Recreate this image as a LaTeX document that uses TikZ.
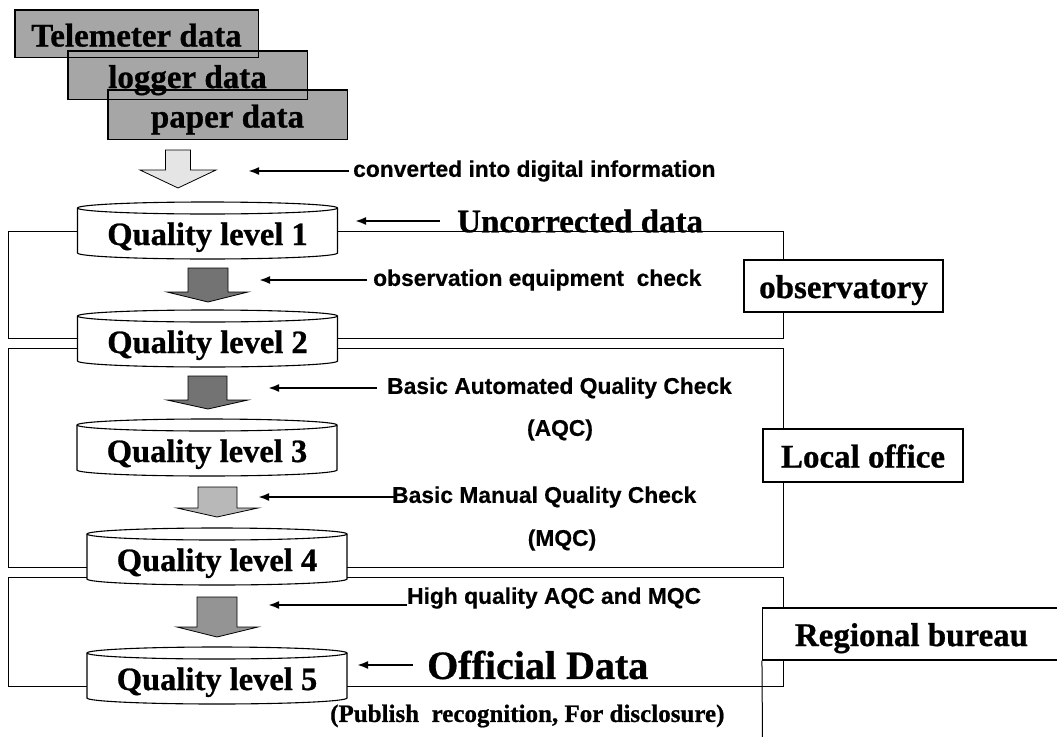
\documentclass[tikz,border=0pt]{standalone}
\usepackage{fontspec}
\setmainfont{Liberation Serif}[BoldFeatures={FakeBold=0.8}]
\setsansfont{Liberation Sans}[BoldFeatures={FakeBold=0.4}]
\usetikzlibrary{arrows.meta}
\pgfdeclarelayer{bg}
\pgfsetlayers{bg,main}
\newcommand\qcyl[1]{%
  \path[cylline] ([shift={(-130pt,27pt)}]#1.center) -- ([shift={(-130pt,-18pt)}]#1.center)
    arc[start angle=180,end angle=360,x radius=130pt,y radius=6pt]
    -- ([shift={(130pt,27pt)}]#1.center)
    arc[start angle=0,end angle=180,x radius=130pt,y radius=6pt] -- cycle;
  \draw[line width=1.1pt] ([shift={(-130pt,27pt)}]#1.center)
    arc[start angle=180,end angle=360,x radius=130pt,y radius=6pt];}
\begin{document}
\begin{tikzpicture}[x=1pt,y=-1pt,
  databox/.style={inner sep=0pt,text height=26pt,text depth=0pt,font=\bfseries\fontsize{33}{36}\selectfont},
  datafill/.style={fill=black!35},
  dataedge/.style={draw=black,line width=1.4pt},
  qtext/.style={inner sep=0pt,minimum width=260pt,minimum height=20pt,text height=22pt,text depth=2pt,font=\bfseries\fontsize{32.5}{36}\selectfont},
  cylline/.style={draw=black,line width=1.1pt,fill=white},
  region/.style={draw=black,line width=1pt},
  officebox/.style={draw=black,line width=1.1pt,fill=white,inner sep=0pt,text height=24pt,text depth=0pt,font=\bfseries\fontsize{33}{36}\selectfont},
  sanslab/.style={inner sep=0pt,anchor=west,font=\sffamily\bfseries\fontsize{22.8}{26}\selectfont},
  sanscen/.style={inner sep=0pt,font=\sffamily\bfseries\fontsize{22.8}{26}\selectfont},
  seriflab/.style={inner sep=0pt,anchor=west,font=\bfseries\fontsize{33}{36}\selectfont},
  ptr/.style={draw=black,line width=2pt,-{Latex[length=11pt,width=8pt]}},
  blockarrow/.style={draw=black,line width=0.8pt},
]
\useasboundingbox (0,0) rectangle (1057,736);

% stacked data sources
\node[databox,minimum width=243pt,minimum height=47pt] (tele) at (136.5,33.5) {Telemeter data};
\node[databox,minimum width=239pt,minimum height=48pt] (logger) at (187.5,75) {logger data};
\node[databox,minimum width=239pt,minimum height=49pt] (paper) at (227.5,114.5) {paper data};
\begin{pgfonlayer}{bg}
\foreach \b in {tele,logger,paper}{\path[datafill] (\b.north west) rectangle (\b.south east);}
\foreach \b in {tele,logger,paper}{\path[dataedge] (\b.north west) rectangle (\b.south east);}
\end{pgfonlayer}

% quality level cylinders
\node[qtext] (q1) at (207.5,235) {Quality level 1};
\node[qtext] (q2) at (207.5,343) {Quality level 2};
\node[qtext] (q3) at (207,452) {Quality level 3};
\node[qtext] (q4) at (217,561) {Quality level 4};
\node[qtext] (q5) at (217,680) {Quality level 5};
\begin{pgfonlayer}{bg}
\qcyl{q1}\qcyl{q2}\qcyl{q3}\qcyl{q4}\qcyl{q5}
\end{pgfonlayer}

% block arrows
\draw[blockarrow,fill=black!10] (165.5,150) -- (190.5,150) -- (190.5,170) -- (216,170) -- (178,188) -- (140,170) -- (165.5,170) -- cycle;
\draw[blockarrow,fill=black!55] (188,268) -- (228,268) -- (228,292) -- (248,292) -- (208,302) -- (167,292) -- (188,292) -- cycle;
\draw[blockarrow,fill=black!55] (188,376) -- (227,376) -- (227,400) -- (248,400) -- (208,409) -- (167,400) -- (188,400) -- cycle;
\draw[blockarrow,fill=black!28] (198,487) -- (237,487) -- (237,508) -- (258,508) -- (217,517) -- (177,508) -- (198,508) -- cycle;
\draw[blockarrow,fill=black!42] (197,597) -- (237,597) -- (237,627) -- (258,627) -- (217,637) -- (177,627) -- (197,627) -- cycle;

% region frames
\draw[region] ([yshift=4pt]q1.east) -- (783,231) -- (783,338) -- ([yshift=5pt]q2.east);
\draw[region] ([yshift=4pt]q1.west) -- (8,231) -- (8,338) -- ([yshift=5pt]q2.west);
\draw[region] ([yshift=-5pt]q2.east) -- (783,348) -- (783,567) -- ([yshift=-6pt]q4.east);
\draw[region] ([yshift=-5pt]q2.west) -- (8,348) -- (8,567) -- ([yshift=-6pt]q4.west);
\draw[region] ([yshift=-16pt]q4.east) -- (783,577) -- (783,686) -- ([yshift=-6pt]q5.east);
\draw[region] ([yshift=-16pt]q4.west) -- (8,577) -- (8,686) -- ([yshift=-6pt]q5.west);

% office boxes
\node[officebox,minimum width=199pt,minimum height=52pt] (obsv) at (843.5,286) {observatory};
\node[officebox,minimum width=200pt,minimum height=53pt] (local) at (863,455.5) {Local office};
\node[officebox,minimum width=298pt,minimum height=52pt] (regional) at (911.5,634) {Regional bureau};
\coordinate (regfoot) at (762.5,740);
\draw[region] (regional.south west) -- (regfoot);

% annotations
\coordinate (p1) at (248,171);
\node[sanslab] (conv) at (353,171) {converted into digital information};
\draw[ptr] ([xshift=-4pt]conv.west) -- (p1);

\coordinate (p0) at (355,221);
\node[seriflab] (unc) at (457,221) {Uncorrected data};
\draw[ptr] ([xshift=-17pt]unc.west) -- (p0);

\coordinate (p2) at (259,280);
\node[sanslab] (obs) at (373,280) {observation equipment~~check};
\draw[ptr] ([xshift=-6pt]obs.west) -- (p2);

\coordinate (p3) at (268,388);
\node[sanslab] (aqcl) at (387,388) {Basic Automated Quality Check};
\draw[ptr] ([xshift=-10pt]aqcl.west) -- (p3);
\node[sanscen] (aqc) at (560,430) {(AQC)};

\coordinate (p4) at (258,497);
\node[sanslab] (mqcl) at (392,497) {Basic Manual Quality Check};
\draw[ptr] ([xshift=2pt]mqcl.west) -- (p4);
\node[sanscen] (mqc) at (562,540) {(MQC)};

\coordinate (p5) at (268,605);
\node[sanslab] (hq) at (407,598) {High quality AQC and MQC};
\draw[ptr] ([yshift=-7pt]hq.west) -- (p5);

\coordinate (p6) at (357,665);
\node[seriflab,font=\bfseries\fontsize{40}{44}\selectfont] (off) at (427,665) {Official Data};
\draw[ptr] ([xshift=-14pt]off.west) -- (p6);

\node[seriflab,font=\bfseries\fontsize{25}{28}\selectfont] (pub) at (330,716) {(Publish~~recognition, For disclosure)};
\end{tikzpicture}
\end{document}
